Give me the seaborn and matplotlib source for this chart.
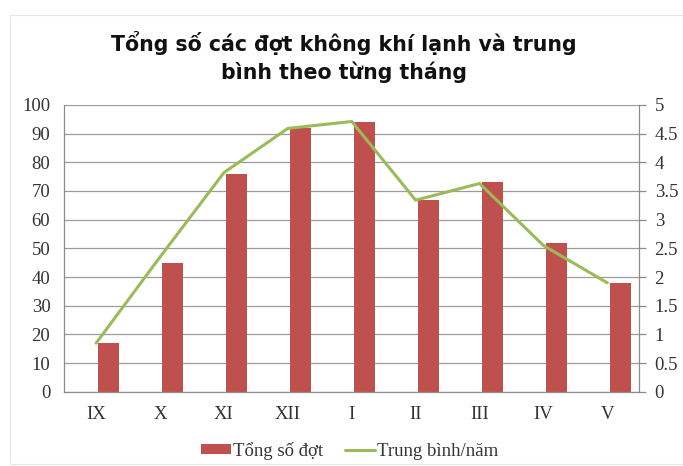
import numpy as np
import pandas as pd
import matplotlib
matplotlib.use("Agg")
import matplotlib.pyplot as plt
from matplotlib.patches import Patch
from matplotlib.lines import Line2D
import seaborn as sns

months = ["IX", "X", "XI", "XII", "I", "II", "III", "IV", "V"]
total_waves = [17, 45, 76, 92, 94, 67, 73, 52, 38]
avg_per_year = [0.85, 2.35, 3.82, 4.59, 4.71, 3.34, 3.63, 2.55, 1.90]
left_ticks = [0, 10, 20, 30, 40, 50, 60, 70, 80, 90, 100]
right_ticks = [0, 0.5, 1, 1.5, 2, 2.5, 3, 3.5, 4, 4.5, 5]
right_labels = ["0", "0.5", "1", "1.5", "2", "2.5", "3", "3.5", "4", "4.5", "5"]
title = "Tổng số các đợt không khí lạnh và trung\nbình theo từng tháng"
bar_label = "Tổng số đợt"
line_label = "Trung bình/năm"

df = pd.DataFrame({"month": months, "total": total_waves, "avg": avg_per_year,
                   "idx": np.arange(len(months))})

sns.set_theme(style="white")
serif = ["Liberation Serif", "DejaVu Serif"]
plt.rcParams["font.family"] = serif

BAR = "#C0504D"
LINE = "#9BBB59"
GRID = "#9c9c9c"
TXT = "#333333"
FS = 13.5

fig = plt.figure(figsize=(6.83, 4.66), dpi=100)
ax = fig.add_axes([0.094, 0.159, 0.842, 0.616])

sns.barplot(data=df, x="month", y="total", color=BAR, width=0.33,
            saturation=1, ax=ax, zorder=2)
for p in ax.patches:
    p.set_x(p.get_x() + 0.2)
    p.set_edgecolor("none")

ax.set_ylim(0, 100)
ax.set_xlim(-0.5, len(months) - 0.5)
ax.set_yticks(left_ticks)
ax.set_yticklabels([str(t) for t in left_ticks])
ax.yaxis.grid(True, color=GRID, lw=0.9)
ax.set_axisbelow(True)
ax.set_xlabel("")
ax.set_ylabel("")
ax.tick_params(axis="y", length=0, pad=10, labelsize=FS, colors=TXT)
ax.tick_params(axis="x", length=0, pad=10, labelsize=FS, colors=TXT)
for s in ["left", "bottom"]:
    ax.spines[s].set_color("#8c8c8c")
    ax.spines[s].set_linewidth(0.9)
ax.spines["top"].set_visible(False)
ax.spines["right"].set_visible(False)

ax2 = ax.twinx()
sns.lineplot(data=df, x="idx", y="avg", color=LINE, lw=2.2, ax=ax2,
             sort=False, zorder=3)
ax2.set_xlim(-0.5, len(months) - 0.5)
ax2.set_ylim(0, 5)
ax2.set_yticks(right_ticks)
ax2.set_yticklabels(right_labels)
ax2.set_ylabel("")
ax2.tick_params(axis="y", length=5, width=0.9, pad=6,
                labelsize=FS, labelcolor=TXT, color="#8c8c8c")
for s in ["left", "top", "bottom"]:
    ax2.spines[s].set_visible(False)
ax2.spines["right"].set_color("#8c8c8c")
ax2.spines["right"].set_linewidth(0.9)
ax.set_xticks(range(len(months)))
ax.set_xticklabels(months)

fig.text(0.504, 0.878, title, ha="center", va="center", fontsize=14.8,
         fontweight="bold", family=["DejaVu Sans"], linespacing=1.4,
         color="#111111")

handles = [Patch(facecolor=BAR, edgecolor="none"),
           Line2D([0], [0], color=LINE, lw=2.2)]
leg = fig.legend(handles, [bar_label, line_label], loc="center",
                 bbox_to_anchor=(0.512, 0.033), ncol=2, frameon=False,
                 fontsize=FS, handlelength=1.6, handleheight=0.4,
                 handletextpad=0.1, columnspacing=1.2)
for t in leg.get_texts():
    t.set_color(TXT)

border = plt.Rectangle((0.015, 0.005), 1.2, 0.962, transform=fig.transFigure,
                       fill=False, edgecolor="#e6e6e6", lw=0.8)
fig.add_artist(border)

fig.savefig("out.png", dpi=100)
